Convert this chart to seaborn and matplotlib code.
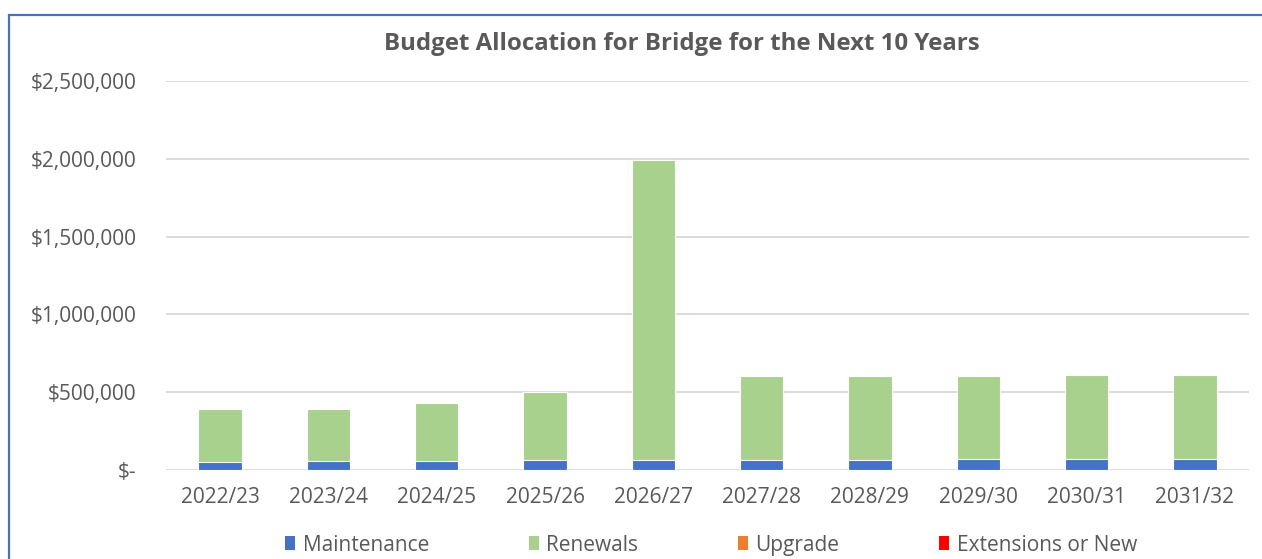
import matplotlib
matplotlib.use("Agg")
import matplotlib.pyplot as plt
import numpy as np
import pandas as pd
import seaborn as sns
from matplotlib.patches import Patch, Rectangle
from matplotlib.ticker import FuncFormatter, MultipleLocator

# Financial years and budget per category (dollars)
years = ["2022/23", "2023/24", "2024/25", "2025/26", "2026/27",
         "2027/28", "2028/29", "2029/30", "2030/31", "2031/32"]
maintenance = [54000, 60000, 60000, 62000, 67000, 64000, 64000, 71000, 71000, 71000]
renewals = [341000, 335000, 370000, 437000, 1928000, 543000, 543000, 536000, 540000, 540000]
upgrade = [0, 0, 0, 0, 0, 0, 0, 0, 0, 0]
extensions = [0, 0, 0, 0, 0, 0, 0, 0, 0, 0]

series_names = ["Maintenance", "Renewals", "Upgrade", "Extensions or New"]
series_colors = ["#4472C4", "#A9D18E", "#ED7D31", "#FF0000"]

sns.set_theme(style="white")
plt.rcParams["font.family"] = ["Open Sans", "DejaVu Sans"]

df = pd.DataFrame({
    "Year": years,
    "Maintenance": maintenance,
    "Renewals": renewals,
    "Upgrade": upgrade,
    "Extensions or New": extensions,
})
# running totals so each layer sits on the one below it
stacked = df[series_names].cumsum(axis=1)

fig = plt.figure(figsize=(12.62, 5.59), dpi=100)
ax = fig.add_axes([0.1315, 0.1592, 0.8582, 0.6959])

# draw from the top of the stack down so lower layers stay visible
for name, color in reversed(list(zip(series_names, series_colors))):
    sns.barplot(x=df["Year"], y=stacked[name], color=color, saturation=1,
                width=0.4, errorbar=None, edgecolor="white", linewidth=0.8,
                ax=ax)

ax.set_ylim(0, 2500000)
ax.yaxis.set_major_locator(MultipleLocator(500000))
ax.yaxis.set_major_formatter(
    FuncFormatter(lambda v, _: "$-" if v == 0 else f"${v:,.0f}"))
ax.set_axisbelow(True)
ax.yaxis.grid(True, color="#D9D9D9", linewidth=1.3)
ax.xaxis.grid(False)
for s in ax.spines.values():
    s.set_visible(False)
ax.set_xlabel("")
ax.set_ylabel("")
ax.tick_params(axis="y", length=0, pad=21, labelsize=15, labelcolor="#595959")
ax.tick_params(axis="x", length=0, pad=12, labelsize=15, labelcolor="#595959")

fig.text(0.540, 0.921, "Budget Allocation for Bridge for the Next 10 Years",
         ha="center", va="center", fontsize=17.3, fontweight="bold",
         color="#595959")

handles = [Patch(facecolor=c, edgecolor="none", label=n)
           for n, c in zip(series_names, series_colors)]
fig.legend(handles=handles, loc="center", bbox_to_anchor=(0.5635, 0.025),
           ncol=4, frameon=False, fontsize=15, labelcolor="#595959",
           handlelength=0.48, handleheight=0.65, handletextpad=0.35,
           columnspacing=4.8)

# chart frame
fig.patches.append(Rectangle((8.5 / 1262, -0.05), 1.2, 1.05 - 14.5 / 559,
                             transform=fig.transFigure, fill=False,
                             edgecolor="#4472C4", linewidth=1.6))

fig.savefig("out.png", dpi=100)
